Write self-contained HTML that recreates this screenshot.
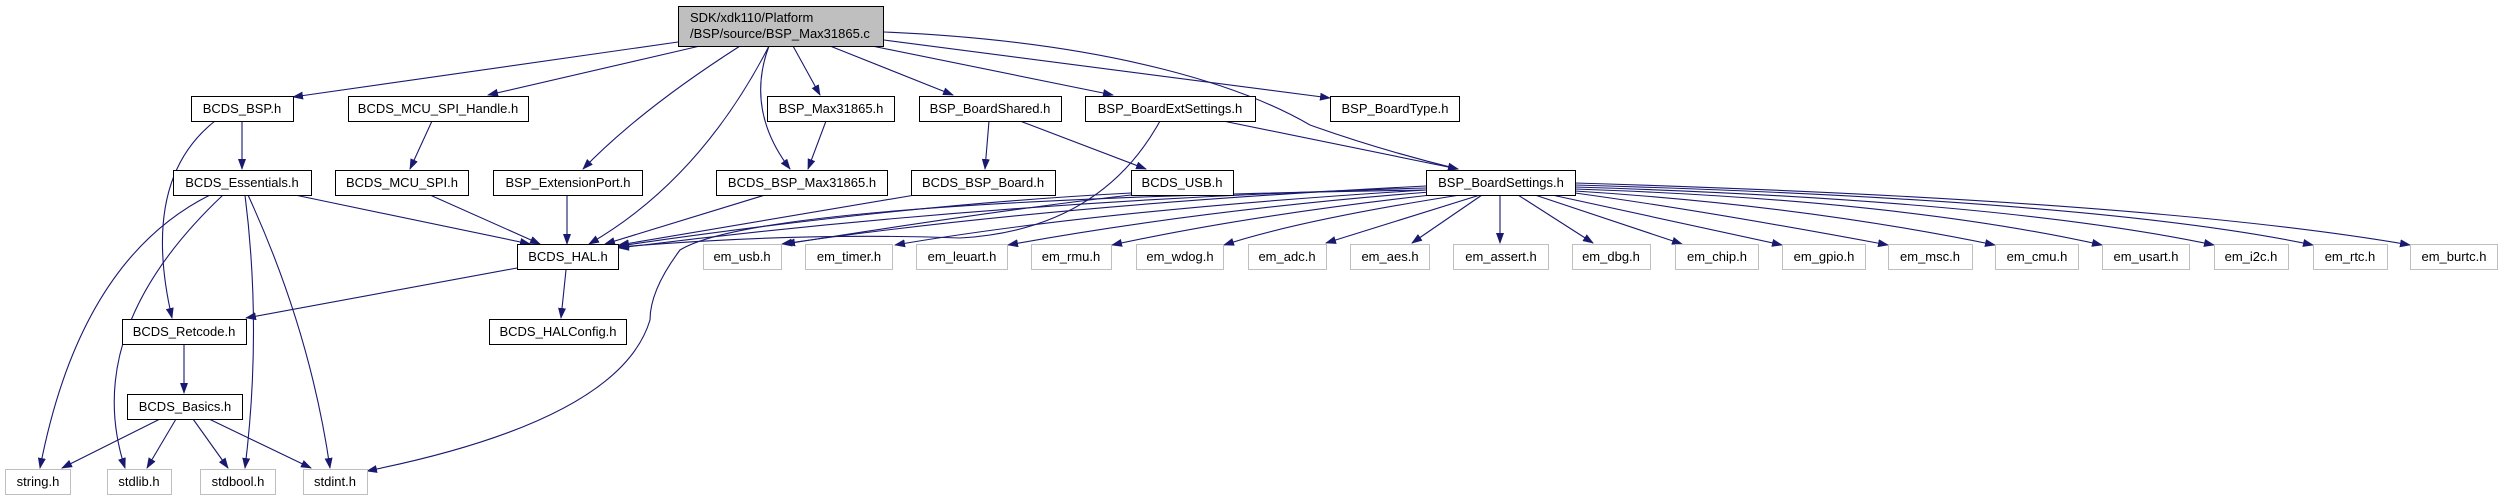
<!DOCTYPE html>
<html><head><meta charset="utf-8"><style>
html,body{margin:0;padding:0;background:#fff;}
svg{display:block;}
text{font-family:"Liberation Sans",Arial,sans-serif;font-size:13px;fill:#000;}
</style></head><body>
<svg width="2503" height="500" viewBox="0 0 2503 500" xmlns="http://www.w3.org/2000/svg">
<defs>
<marker id="a" markerWidth="11" markerHeight="8" refX="10" refY="4" orient="auto" markerUnits="userSpaceOnUse">
<path d="M0,0 L11,4 L0,8 Z" fill="#191970"/>
</marker>
</defs>
<g fill="none" stroke="#191970" stroke-width="1.1" marker-end="url(#a)">
<path d="M678,42 L293,97"/>
<path d="M700,46 L488,95"/>
<path d="M740,46 Q640,110 583,169"/>
<path d="M769,46 Q700,180 589,244"/>
<path d="M769,46 Q745,110 790,169"/>
<path d="M793,46 L820,95"/>
<path d="M830,46 L953,95"/>
<path d="M872,46 L1113,95"/>
<path d="M884,40 L1330,98"/>
<path d="M884,32 C1120,42 1250,90 1310,125 Q1380,150 1458,169"/>
<path d="M242,121 L242,169"/>
<path d="M215,121 Q140,180 172,318"/>
<path d="M432,121 L410,169"/>
<path d="M826,121 L808,169"/>
<path d="M989,121 L985,169"/>
<path d="M1020,121 L1146,169"/>
<path d="M1223,121 L1458,169"/>
<path d="M1160,121 Q1100,230 960,238 Q800,232 619,247"/>
<path d="M295,195 L530,244"/>
<path d="M430,195 L540,244"/>
<path d="M567,195 L567,244"/>
<path d="M765,195 L605,244"/>
<path d="M915,195 L619,245"/>
<path d="M1131,193 Q900,205 619,246"/>
<path d="M1426,188 Q1000,200 619,248"/>
<path d="M210,195 Q80,260 40,468"/>
<path d="M223,195 Q80,330 125,468"/>
<path d="M245,195 Q262,330 245,468"/>
<path d="M248,195 Q310,330 330,468"/>
<path d="M1426,190 Q760,200 680,250 Q650,290 650,320 Q620,420 367,471"/>
<path d="M517,268 L246,318"/>
<path d="M566,270 L561,318"/>
<path d="M184,345 L184,393"/>
<path d="M160,419 L62,468"/>
<path d="M176,419 L147,468"/>
<path d="M193,419 L228,468"/>
<path d="M209,419 L311,468"/>
<path d="M1131,195 Q1000,210 785,244"/>
<path d="M1426,186 Q1050,205 782,244"/>
<path d="M1426,190 Q1100,210 895,245"/>
<path d="M1430,192 Q1200,210 1008,245"/>
<path d="M1440,194 Q1250,215 1112,245"/>
<path d="M1460,195 Q1300,220 1224,245"/>
<path d="M1480,195 L1326,243"/>
<path d="M1482,195 L1412,243"/>
<path d="M1500,195 L1500,243"/>
<path d="M1518,195 L1593,243"/>
<path d="M1535,195 L1682,244"/>
<path d="M1552,195 L1782,245"/>
<path d="M1575,193 Q1700,210 1888,245"/>
<path d="M1575,191 Q1800,205 1995,245"/>
<path d="M1575,189 Q1900,200 2102,245"/>
<path d="M1575,187 Q2000,200 2214,245"/>
<path d="M1575,185 Q2100,200 2313,245"/>
<path d="M1575,183 Q2150,200 2410,245"/>
</g>
<g stroke-width="1">
<rect x="678.5" y="6.5" width="205" height="40" fill="#bfbfbf" stroke="#000"/>
<text x="690" y="22">SDK/xdk110/Platform</text>
<text x="690" y="38">/BSP/source/BSP_Max31865.c</text>
</g>
<g fill="#fff" stroke="#000" stroke-width="1">
<rect x="191.5" y="96.5" width="102" height="25"/>
<rect x="348.5" y="96.5" width="180" height="25"/>
<rect x="767.5" y="96.5" width="127" height="25"/>
<rect x="919.5" y="96.5" width="142" height="25"/>
<rect x="1085.5" y="96.5" width="170" height="25"/>
<rect x="1330.5" y="96.5" width="129" height="25"/>
<rect x="173.5" y="170.5" width="138" height="25"/>
<rect x="335.5" y="170.5" width="133" height="25"/>
<rect x="493.5" y="170.5" width="149" height="25"/>
<rect x="716.5" y="170.5" width="171" height="25"/>
<rect x="911.5" y="170.5" width="144" height="25"/>
<rect x="1131.5" y="170.5" width="102" height="25"/>
<rect x="1426.5" y="170.5" width="149" height="25"/>
<rect x="517.5" y="244.5" width="101" height="25"/>
<rect x="122.5" y="319.5" width="124" height="25"/>
<rect x="489.5" y="319.5" width="137" height="25"/>
<rect x="127.5" y="394.5" width="115" height="25"/>
</g>
<g fill="#fff" stroke="#bfbfbf" stroke-width="1">
<rect x="5.5" y="469.5" width="65" height="25"/>
<rect x="107.5" y="469.5" width="64" height="25"/>
<rect x="200.5" y="469.5" width="75" height="25"/>
<rect x="303.5" y="469.5" width="64" height="25"/>
<rect x="703.5" y="244.5" width="78" height="25"/>
<rect x="805.5" y="244.5" width="87" height="25"/>
<rect x="916.5" y="244.5" width="91" height="25"/>
<rect x="1031.5" y="244.5" width="80" height="25"/>
<rect x="1136.5" y="244.5" width="87" height="25"/>
<rect x="1248.5" y="244.5" width="78" height="25"/>
<rect x="1350.5" y="244.5" width="79" height="25"/>
<rect x="1453.5" y="244.5" width="95" height="25"/>
<rect x="1572.5" y="244.5" width="78" height="25"/>
<rect x="1675.5" y="244.5" width="83" height="25"/>
<rect x="1782.5" y="244.5" width="83" height="25"/>
<rect x="1888.5" y="244.5" width="84" height="25"/>
<rect x="1995.5" y="244.5" width="83" height="25"/>
<rect x="2102.5" y="244.5" width="87" height="25"/>
<rect x="2214.5" y="244.5" width="74" height="25"/>
<rect x="2313.5" y="244.5" width="74" height="25"/>
<rect x="2410.5" y="244.5" width="87" height="25"/>
</g>
<g text-anchor="middle">
<text x="242" y="113">BCDS_BSP.h</text>
<text x="438" y="113">BCDS_MCU_SPI_Handle.h</text>
<text x="831" y="113">BSP_Max31865.h</text>
<text x="990" y="113">BSP_BoardShared.h</text>
<text x="1170" y="113">BSP_BoardExtSettings.h</text>
<text x="1395" y="113">BSP_BoardType.h</text>
<text x="242" y="187">BCDS_Essentials.h</text>
<text x="402" y="187">BCDS_MCU_SPI.h</text>
<text x="568" y="187">BSP_ExtensionPort.h</text>
<text x="802" y="187">BCDS_BSP_Max31865.h</text>
<text x="983" y="187">BCDS_BSP_Board.h</text>
<text x="1182" y="187">BCDS_USB.h</text>
<text x="1501" y="187">BSP_BoardSettings.h</text>
<text x="568" y="261">BCDS_HAL.h</text>
<text x="184" y="336">BCDS_Retcode.h</text>
<text x="558" y="336">BCDS_HALConfig.h</text>
<text x="185" y="411">BCDS_Basics.h</text>
<text x="38" y="486">string.h</text>
<text x="139" y="486">stdlib.h</text>
<text x="238" y="486">stdbool.h</text>
<text x="335" y="486">stdint.h</text>
<text x="742" y="261">em_usb.h</text>
<text x="849" y="261">em_timer.h</text>
<text x="962" y="261">em_leuart.h</text>
<text x="1071" y="261">em_rmu.h</text>
<text x="1180" y="261">em_wdog.h</text>
<text x="1287" y="261">em_adc.h</text>
<text x="1390" y="261">em_aes.h</text>
<text x="1501" y="261">em_assert.h</text>
<text x="1611" y="261">em_dbg.h</text>
<text x="1717" y="261">em_chip.h</text>
<text x="1824" y="261">em_gpio.h</text>
<text x="1930" y="261">em_msc.h</text>
<text x="2037" y="261">em_cmu.h</text>
<text x="2146" y="261">em_usart.h</text>
<text x="2251" y="261">em_i2c.h</text>
<text x="2350" y="261">em_rtc.h</text>
<text x="2454" y="261">em_burtc.h</text>
</g>
</svg>
</body></html>
